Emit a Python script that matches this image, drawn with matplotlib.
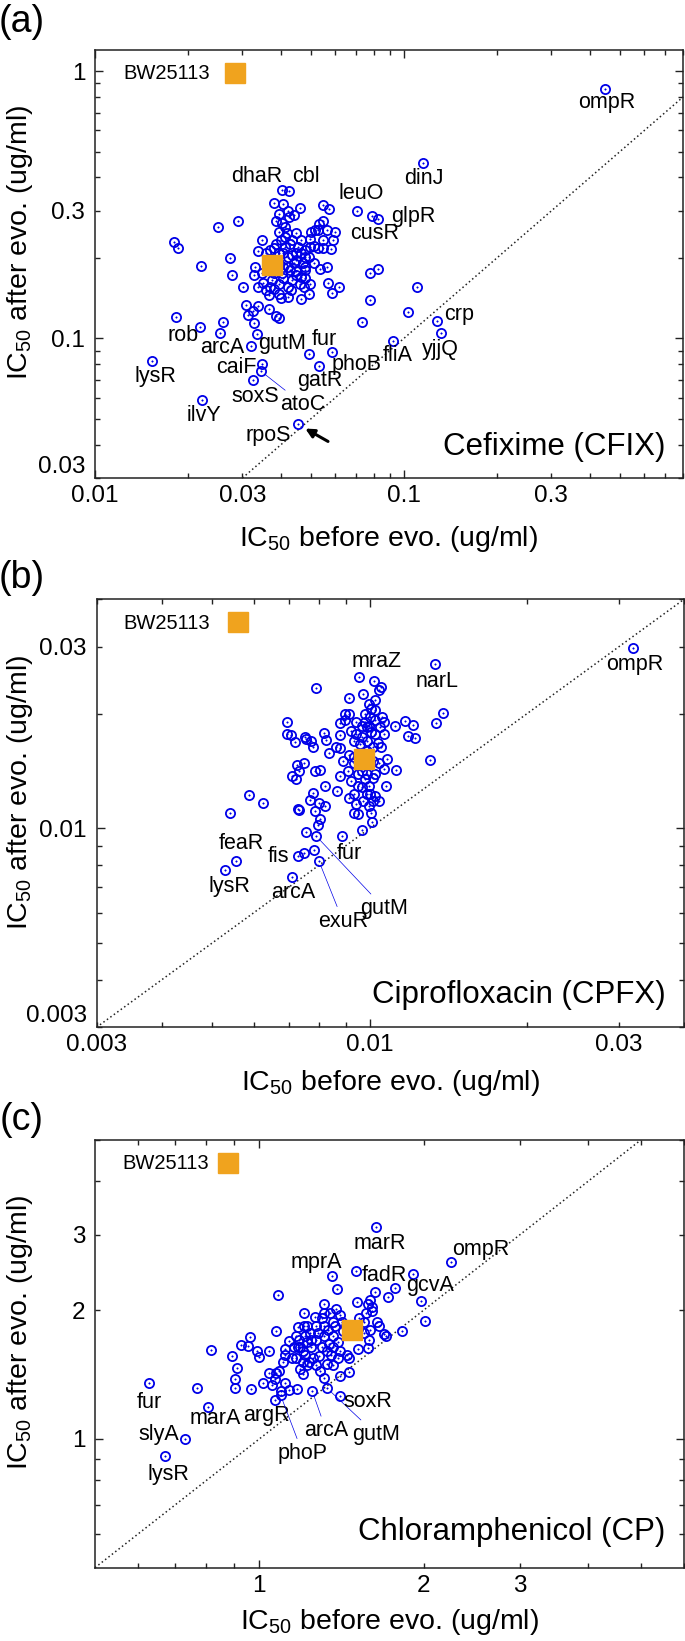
import matplotlib
matplotlib.use('Agg')
import matplotlib.pyplot as plt
from matplotlib import font_manager
from matplotlib.ticker import FixedLocator, FuncFormatter

# ---------------- data ----------------
# Panel (a) Cefixime
a_before = [0.0180, 0.0186, 0.0250, 0.0291, 0.0220, 0.0273, 0.0278, 0.0301, 0.0183, 0.0259,
            0.0309, 0.0324, 0.0337, 0.0312, 0.0328, 0.0334, 0.0367, 0.0386, 0.0394, 0.0346,
            0.0336, 0.0329, 0.0328, 0.0350, 0.0367, 0.0357, 0.0369, 0.0394, 0.0380, 0.0400,
            0.0420, 0.0431, 0.0463, 0.0494, 0.0474, 0.0394, 0.0380, 0.0407, 0.0462, 0.0548,
            0.0572, 0.0385, 0.0404, 0.0424, 0.0441, 0.0394, 0.0413, 0.0448, 0.0463, 0.0497,
            0.0514, 0.0527, 0.0545, 0.0530, 0.0600, 0.0590, 0.0581, 0.0545, 0.0497, 0.0478,
            0.0407, 0.0369, 0.0381, 0.0394, 0.0434, 0.0448, 0.0471, 0.0478, 0.0463, 0.0448,
            0.0434, 0.0420, 0.0536, 0.0562, 0.0566, 0.0585, 0.0616, 0.0778, 0.0825, 0.1100,
            0.0778, 0.1028, 0.0734, 0.0527, 0.0510, 0.0417, 0.0427, 0.0384, 0.0394, 0.0420,
            0.0478, 0.0448, 0.0413, 0.0404, 0.0427, 0.0448, 0.0478, 0.0460, 0.0497, 0.0346,
            0.0336, 0.0381, 0.0381, 0.0407, 0.0400, 0.0413, 0.0434, 0.0455, 0.0441, 0.0420,
            0.0463, 0.0494, 0.0369, 0.0375, 0.0407, 0.0478, 0.0510, 0.0545, 0.0562, 0.0502,
            0.0420, 0.0394, 0.0357]
a_after = [0.229, 0.217, 0.261, 0.275, 0.187, 0.200, 0.172, 0.156, 0.120, 0.115,
           0.133, 0.127, 0.132, 0.122, 0.114, 0.104, 0.129, 0.121, 0.119, 0.233,
           0.212, 0.185, 0.173, 0.161, 0.145, 0.151, 0.156, 0.147, 0.153, 0.141,
           0.143, 0.151, 0.140, 0.147, 0.155, 0.160, 0.321, 0.317, 0.308, 0.316,
           0.305, 0.276, 0.269, 0.285, 0.289, 0.250, 0.261, 0.247, 0.233, 0.236,
           0.254, 0.255, 0.276, 0.268, 0.249, 0.233, 0.215, 0.217, 0.220, 0.214,
           0.208, 0.214, 0.217, 0.208, 0.205, 0.196, 0.191, 0.185, 0.170, 0.172,
           0.165, 0.156, 0.181, 0.185, 0.161, 0.148, 0.155, 0.175, 0.182, 0.156,
           0.139, 0.125, 0.115, 0.217, 0.221, 0.247, 0.226, 0.226, 0.191, 0.185,
           0.202, 0.208, 0.220, 0.175, 0.180, 0.179, 0.180, 0.160, 0.160, 0.175,
           0.156, 0.175, 0.185, 0.185, 0.233, 0.240, 0.233, 0.220, 0.191, 0.202,
           0.208, 0.202, 0.185, 0.165, 0.168, 0.168, 0.191, 0.233, 0.254, 0.250,
           0.300, 0.292, 0.208]
a_genes = ['ompR', 'dinJ', 'dhaR', 'cbl', 'leuO', 'cusR', 'glpR', 'crp', 'yjjQ', 'fliA',
           'phoB', 'fur', 'gatR', 'gutM', 'arcA', 'rob', 'lysR', 'caiF', 'soxS', 'atoC',
           'ilvY', 'rpoS']
a_gene_before = [0.448, 0.1155, 0.0404, 0.0423, 0.0706, 0.0786, 0.0825, 0.128, 0.1315, 0.0924,
                 0.0585, 0.0494, 0.0531, 0.0321, 0.0253, 0.0218, 0.0153, 0.0346, 0.0324, 0.0345,
                 0.0222, 0.0454]
a_gene_after = [0.859, 0.453, 0.360, 0.356, 0.299, 0.286, 0.279, 0.116, 0.105, 0.098,
                0.089, 0.0873, 0.0789, 0.0935, 0.1045, 0.110, 0.0819, 0.0801, 0.0698, 0.0752,
                0.0587, 0.0476]
a_wt = (0.0375, 0.188)

# Panel (b) Ciprofloxacin
b_before = [0.00788, 0.00914, 0.00970, 0.01018, 0.01042, 0.01050, 0.01022, 0.00997, 0.01006, 0.00896,
            0.00914, 0.00978, 0.01026, 0.01056, 0.01066, 0.01119, 0.01169, 0.01213, 0.01382, 0.01343,
            0.01185, 0.01220, 0.01305, 0.00695, 0.00694, 0.00708, 0.00751, 0.00754, 0.00772, 0.00778,
            0.00721, 0.00817, 0.00824, 0.00876, 0.00879, 0.00896, 0.00923, 0.00941, 0.00932, 0.00968,
            0.00987, 0.01006, 0.01026, 0.01046, 0.01066, 0.01036, 0.00987, 0.00959, 0.00838, 0.00863,
            0.00879, 0.00914, 0.00888, 0.00935, 0.00910, 0.00935, 0.00879, 0.01042, 0.01081, 0.01066,
            0.01125, 0.01026, 0.00987, 0.00950, 0.00923, 0.00978, 0.01016, 0.00997, 0.00968, 0.01002,
            0.00972, 0.00941, 0.00997, 0.01026, 0.01042, 0.01074, 0.01006, 0.01010, 0.00968, 0.00935,
            0.00950, 0.00914, 0.00868, 0.00822, 0.00780, 0.00769, 0.00799, 0.00822, 0.00730, 0.00733,
            0.00787, 0.00803, 0.00796, 0.00754, 0.00750, 0.00783, 0.00731, 0.00750, 0.00726, 0.00709,
            0.00723, 0.00787, 0.00802, 0.00587, 0.00626, 0.00541, 0.00997, 0.00968, 0.00959, 0.00987,
            0.01016, 0.01050, 0.00978, 0.01002, 0.01026, 0.00997, 0.00968, 0.01016, 0.00950, 0.00987,
            0.00932, 0.01016, 0.00941]
b_after = [0.02337, 0.02204, 0.02259, 0.02439, 0.02305, 0.02352, 0.02169, 0.02117, 0.02062, 0.02001,
           0.01993, 0.02001, 0.02042, 0.01961, 0.01902, 0.01855, 0.01913, 0.01871, 0.02009, 0.01890,
           0.01752, 0.01728, 0.01517, 0.01898, 0.01770, 0.01763, 0.01742, 0.01714, 0.01700, 0.01639,
           0.01683, 0.01778, 0.01707, 0.01890, 0.01763, 0.01921, 0.01807, 0.01770, 0.01700, 0.01863,
           0.01844, 0.01789, 0.01770, 0.01844, 0.01770, 0.01673, 0.01700, 0.01666, 0.01574, 0.01632,
           0.01626, 0.01561, 0.01499, 0.01536, 0.01416, 0.01481, 0.01374, 0.01481, 0.01520, 0.01431,
           0.01422, 0.01388, 0.01388, 0.01388, 0.01334, 0.01346, 0.01360, 0.01294, 0.01281, 0.01230,
           0.01181, 0.01157, 0.01146, 0.01217, 0.01181, 0.01294, 0.01100, 0.01041, 0.00992, 0.01100,
           0.01089, 0.01205, 0.01255, 0.01294, 0.01235, 0.01186, 0.01169, 0.01146, 0.01122, 0.01116,
           0.01111, 0.01056, 0.01020, 0.00978, 0.00862, 0.00875, 0.01416, 0.01481, 0.01469, 0.01374,
           0.01346, 0.01411, 0.01422, 0.01225, 0.01164, 0.01095, 0.01536, 0.01416, 0.01568, 0.01599,
           0.01632, 0.01632, 0.01902, 0.01961, 0.01921, 0.01863, 0.01735, 0.01506, 0.01294, 0.01230,
           0.01230, 0.01181, 0.01902]
b_genes = ['ompR', 'narL', 'mraZ', 'feaR', 'lysR', 'fis', 'arcA', 'fur', 'gutM', 'exuR']
b_gene_before = [0.0319, 0.01332, 0.00955, 0.00554, 0.00529, 0.00730, 0.00709, 0.00886, 0.00791, 0.00800]
b_gene_after = [0.0298, 0.0270, 0.0250, 0.00823, 0.00778, 0.00844, 0.00744, 0.00953, 0.00953, 0.00820]
b_wt = (0.00974, 0.0152)

# Panel (c) Chloramphenicol
c_before = [1.084, 1.074, 0.814, 0.893, 0.910, 0.901, 0.901, 0.769, 0.965, 0.927,
            0.953, 0.961, 0.990, 0.998, 1.043, 1.016, 1.043, 1.054, 1.070, 1.074,
            1.086, 1.104, 1.115, 1.115, 1.135, 1.094, 1.135, 1.173, 1.115, 1.187,
            1.200, 1.222, 1.233, 1.211, 1.200, 1.189, 1.184, 1.169, 1.178, 1.206,
            1.206, 1.264, 1.304, 1.316, 1.388, 1.385, 1.348, 1.316, 1.280, 1.245,
            1.256, 1.287, 1.292, 1.316, 1.328, 1.365, 1.391, 1.404, 1.365, 1.340,
            1.391, 1.365, 1.335, 1.378, 1.417, 1.443, 1.457, 1.462, 1.404, 1.448,
            1.511, 1.582, 1.597, 1.627, 1.719, 1.775, 1.568, 1.612, 1.642, 1.657,
            1.589, 1.519, 1.582, 1.704, 1.691, 1.824, 1.975, 2.012, 1.597, 1.553,
            1.514, 1.525, 1.553, 1.612, 1.268, 1.222, 1.304, 1.353, 1.238, 1.211,
            1.316, 1.424, 1.365, 1.404, 1.268, 1.200, 1.167, 1.222, 1.268, 1.316,
            1.156, 1.245, 1.328, 1.146, 1.178]
c_after = [2.174, 1.788, 1.610, 1.560, 1.469, 1.380, 1.314, 1.314, 1.306, 1.661,
           1.648, 1.733, 1.603, 1.557, 1.607, 1.353, 1.429, 1.335, 1.380, 1.429,
           1.440, 1.514, 1.575, 1.622, 1.690, 1.296, 1.301, 1.306, 1.353, 1.457,
           1.415, 1.486, 1.514, 1.575, 1.607, 1.638, 1.703, 1.736, 1.823, 1.841,
           1.968, 1.929, 1.914, 2.070, 2.246, 2.010, 1.971, 1.841, 1.770, 1.638,
           1.545, 1.560, 1.443, 1.388, 1.500, 1.486, 1.545, 1.607, 1.638, 1.670,
           1.687, 1.736, 1.798, 1.841, 1.877, 1.841, 1.545, 1.434, 1.407, 1.575,
           2.090, 2.070, 2.111, 2.203, 2.144, 2.250, 1.971, 1.991, 1.877, 1.841,
           1.703, 1.619, 1.632, 1.736, 1.756, 1.791, 2.102, 1.885, 1.795, 1.770,
           1.805, 1.914, 1.877, 2.030, 1.703, 1.687, 1.638, 1.575, 1.770, 1.736,
           1.736, 1.788, 1.877, 1.952, 1.486, 1.514, 1.545, 1.841, 1.841, 1.971,
           1.638, 1.703, 1.607, 1.545, 1.638]
c_genes = ['marR', 'ompR', 'mprA', 'fadR', 'gcvA', 'fur', 'marA', 'slyA', 'lysR', 'argR',
           'phoP', 'arcA', 'gutM', 'soxR']
c_gene_before = [1.636, 2.247, 1.360, 1.503, 1.910, 0.629, 0.805, 0.732, 0.673, 1.070,
                 1.094, 1.250, 1.331, 1.406]
c_gene_after = [3.130, 2.595, 2.405, 2.472, 2.429, 1.350, 1.190, 1.000, 0.912, 1.232,
                1.266, 1.296, 1.314, 1.259]
c_wt = (1.478, 1.80)

drugs = ['Cefixime (CFIX)', 'Ciprofloxacin (CPFX)', 'Chloramphenicol (CP)']
panel_letters = ['(a)', '(b)', '(c)']
reference_name = 'BW25113'

for xs, ys in [(a_before, a_after), (b_before, b_after), (c_before, c_after),
               (a_gene_before, a_gene_after), (b_gene_before, b_gene_after),
               (c_gene_before, c_gene_after)]:
    assert len(xs) == len(ys)

# ---------------- layout / style ----------------
available = {f.name for f in font_manager.fontManager.ttflist}
BASE = 'Liberation Sans' if 'Liberation Sans' in available else 'DejaVu Sans'
if 'Liberation Sans Narrow' in available:
    TICKFONT, TICKSIZE = 'Liberation Sans Narrow', 20
else:
    TICKFONT, TICKSIZE = BASE, 17.5

plt.rcParams['font.family'] = [BASE, 'DejaVu Sans']
plt.rcParams['mathtext.default'] = 'regular'

BLUE = '#0000E8'
ORANGE = '#F0A31E'
W, H = 685, 1641
GENE_FS = 15.5

fig = plt.figure(figsize=(W / 100, H / 100), dpi=100)

# axes boxes in pixels: left, top, right, bottom
boxes = [(95, 50, 683, 478), (96.5, 599.3, 684, 1027.3), (95, 1140, 684, 1567.7)]
letter_pos = [(22, 22), (22, 578), (22, 1120)]
xlabel_drop = [61, 56, 54]

limits = [((0.01, 0.8), (0.03, 1.2)),
          ((0.003, 0.04), (0.003, 0.04)),
          ((0.5, 6.0), (0.5, 5.0))]
major_ticks = [([0.01, 0.1], [0.1, 1.0]),
               ([0.01], [0.01]),
               ([1.0], [1.0])]
minor_ticks = [([0.02, 0.03, 0.04, 0.05, 0.06, 0.07, 0.08, 0.09, 0.2, 0.3, 0.4, 0.5, 0.6, 0.7, 0.8],
                [0.03, 0.04, 0.05, 0.06, 0.07, 0.08, 0.09, 0.2, 0.3, 0.4, 0.5, 0.6, 0.7, 0.8, 0.9]),
               ([0.003, 0.004, 0.005, 0.006, 0.007, 0.008, 0.009, 0.02, 0.03, 0.04],
                [0.003, 0.004, 0.005, 0.006, 0.007, 0.008, 0.009, 0.02, 0.03, 0.04]),
               ([0.6, 0.7, 0.8, 0.9, 2, 3, 4, 5, 6],
                [0.6, 0.7, 0.8, 0.9, 2, 3, 4, 5])]
tick_labels = [{0.01: '0.01', 0.03: '0.03', 0.1: '0.1', 0.3: '0.3', 1.0: '1'},
               {0.003: '0.003', 0.01: '0.01', 0.03: '0.03'},
               {1.0: '1', 2.0: '2', 3.0: '3'}]
lift_bottom_ylabel = [True, True, False]

# label offsets in pixels (dx, dy)
label_offsets = [
    {'ompR': (2, -14), 'dinJ': (1, -15), 'dhaR': (-26, 13), 'cbl': (17, 14), 'leuO': (4, 18),
     'cusR': (3, -17), 'glpR': (35, 3), 'crp': (22, 7), 'yjjQ': (0, -17), 'fliA': (4, -15),
     'phoB': (25, -13), 'fur': (15, 15), 'gatR': (1, -15), 'gutM': (31, 3), 'arcA': (3, -14),
     'rob': (-17, -8), 'lysR': (3, -15), 'caiF': (-25, -3), 'soxS': (3, -16), 'atoC': (42, -33),
     'ilvY': (2, -15), 'rpoS': (-30, -11)},
    {'ompR': (2, -17), 'narL': (2, -17), 'mraZ': (17, 15), 'feaR': (6, 17), 'lysR': (4, -17),
     'fis': (-20, 0), 'arcA': (2, -15), 'fur': (7, -17), 'gutM': (68, -72), 'exuR': (24, -60)},
    {'marR': (4, -16), 'ompR': (30, 12), 'mprA': (-16, 13), 'fadR': (29, -5), 'gcvA': (17, -11),
     'fur': (0, -19), 'marA': (7, -12), 'slyA': (-27, 4), 'lysR': (3, -18), 'argR': (-9, -15),
     'phoP': (22, -58), 'arcA': (14, -40), 'gutM': (49, -46), 'soxR': (28, -5)},
]
leaders = [{'atoC'}, {'gutM', 'exuR'}, {'phoP', 'arcA', 'gutM'}]

legend_pos = [((0.0476, 0.946), (0.238, 0.947)),
              ((0.0450, 0.944), (0.241, 0.947)),
              ((0.0458, 0.9455), (0.226, 0.946))]
drug_pos = [(0.971, 0.073), (0.969, 0.0755), (0.968, 0.084)]

data = [(a_before, a_after, a_genes, a_gene_before, a_gene_after, a_wt),
        (b_before, b_after, b_genes, b_gene_before, b_gene_after, b_wt),
        (c_before, c_after, c_genes, c_gene_before, c_gene_after, c_wt)]

for i, (bx, by, genes, gx, gy, wt) in enumerate(data):
    l, t, r, b = boxes[i]
    ax = fig.add_axes([l / W, 1 - b / H, (r - l) / W, (b - t) / H])
    ax.set_xscale('log')
    ax.set_yscale('log')
    (x0, x1), (y0, y1) = limits[i]
    ax.set_xlim(x0, x1)
    ax.set_ylim(y0, y1)

    labels = tick_labels[i]

    def fmt(v, pos, labels=labels):
        for k, s in labels.items():
            if abs(v / k - 1) < 1e-6:
                return s
        return ''

    ax.xaxis.set_major_locator(FixedLocator(major_ticks[i][0]))
    ax.yaxis.set_major_locator(FixedLocator(major_ticks[i][1]))
    ax.xaxis.set_minor_locator(FixedLocator(minor_ticks[i][0]))
    ax.yaxis.set_minor_locator(FixedLocator(minor_ticks[i][1]))
    for axis in (ax.xaxis, ax.yaxis):
        axis.set_major_formatter(FuncFormatter(fmt))
        axis.set_minor_formatter(FuncFormatter(fmt))

    ax.tick_params(which='both', direction='in', top=True, right=True,
                   width=1.0, color='#222222', labelcolor='black',
                   labelsize=TICKSIZE, labelfontfamily=TICKFONT)
    ax.tick_params(which='major', length=6)
    ax.tick_params(which='minor', length=3.3)
    ax.tick_params(axis='x', which='both', pad=5)
    ax.tick_params(axis='y', which='both', pad=7)
    for sp in ax.spines.values():
        sp.set_linewidth(1.1)
        sp.set_color('#222222')

    if lift_bottom_ylabel[i]:
        # the lowest y tick label sits just above the bottom edge, as in the original
        ax.yaxis.get_minor_ticks()[0].label1.set_verticalalignment('bottom')

    # identity line
    ax.axline((1, 1), (2, 2), color='#222222', lw=1.1, ls=(0, (1, 1.8)), zorder=1)

    # all mutants
    allx = list(bx) + list(gx)
    ally = list(by) + list(gy)
    ax.plot(allx, ally, ls='none', marker='o', ms=6.6, mfc='none', mec=BLUE, mew=1.3, zorder=3)
    ax.plot(allx, ally, ls='none', marker='o', ms=1.1, mfc=BLUE, mec=BLUE, mew=0.3, zorder=3)

    # labels
    offs = label_offsets[i]
    for g, x, y in zip(genes, gx, gy):
        dx, dy = offs[g]
        kw = dict(xy=(x, y), xytext=(dx, dy), textcoords='offset pixels',
                  ha='center', va='center', fontsize=GENE_FS, zorder=5)
        if g in leaders[i]:
            kw['arrowprops'] = dict(arrowstyle='-', color=BLUE, lw=0.5, shrinkA=1, shrinkB=4)
        ax.annotate(g, **kw)

    # wild-type reference
    ax.plot([wt[0]], [wt[1]], ls='none', marker='s', ms=14.4, color=ORANGE, zorder=6)
    (tx, ty), (sx, sy) = legend_pos[i]
    ax.text(tx, ty, reference_name, transform=ax.transAxes, ha='left', va='center', fontsize=14.5)
    ax.plot([sx], [sy], transform=ax.transAxes, ls='none', marker='s', ms=14.4,
            color=ORANGE, clip_on=False)

    # drug name
    ax.text(drug_pos[i][0], drug_pos[i][1], drugs[i], transform=ax.transAxes,
            ha='right', va='center', fontsize=22.5)

    # axis labels
    ax.set_xlabel('IC$_{50}$ before evo. (ug/ml)', fontsize=20.5, va='center')
    ax.xaxis.set_label_coords(0.5, -xlabel_drop[i] / (b - t))
    ax.set_ylabel('IC$_{50}$ after evo. (ug/ml)', fontsize=20.5, va='center', ha='center')
    ax.yaxis.set_label_coords(-(l - 20) / (r - l), 0.55)

    # panel letter
    px, py = letter_pos[i]
    fig.text(px / W, 1 - py / H, panel_letters[i], ha='center', va='center', fontsize=27)

    if i == 0:
        k = genes.index('rpoS')
        ax.annotate('', xy=(gx[k], gy[k]), xytext=(30, -17), textcoords='offset pixels',
                    arrowprops=dict(arrowstyle='-|>', color='black', lw=2.2,
                                    mutation_scale=13, shrinkA=0, shrinkB=6), zorder=6)

fig.savefig('out.png', dpi=100)
